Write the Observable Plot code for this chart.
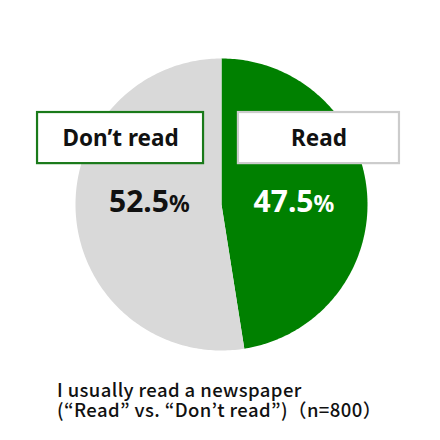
<!DOCTYPE html>
<html>
<head>
<meta charset="utf-8">
<script src="https://cdn.jsdelivr.net/npm/d3@7"></script>
<script src="https://cdn.jsdelivr.net/npm/@observablehq/plot@0.6"></script>
<style>
  html, body { margin: 0; padding: 0; background: #fff; }
  #chart { width: 440px; position: relative; height: 440px; }
  .caption { position: absolute; left: 57px; top: 379px; font-family: "Noto Sans CJK JP", "Noto Sans", sans-serif; font-weight: 500; font-size: 18.5px; line-height: 20px; letter-spacing: 0.4px; color: #111; white-space: nowrap; }
</style>
</head>
<body>
<div id="chart"></div>
<script>
const categories = ["Read", "Don’t read"];
const values = [47.5, 52.5];
const valueLabels = ["47.5", "52.5"];
const fills = ["#008000", "#d9d9d9"];
const boxStrokes = ["#cccccc", "#1a7a1a"];
const textFills = ["#ffffff", "#111111"];
const captionLines = ["I usually read a newspaper", "(“Read” vs. “Don’t read”)（n=800）"];

// slice polygons from data (clockwise from 12 o'clock)
const total = d3.sum(values);
let acc = 0;
const slices = categories.map((c, i) => {
  const a0 = acc / total * 2 * Math.PI;
  acc += values[i];
  const a1 = acc / total * 2 * Math.PI;
  return { category: c, a0, a1, i };
});
const polys = [];
for (const s of slices) {
  const n = 200;
  polys.push({ category: s.category, k: 0, x: 0, y: 0 });
  for (let j = 0; j <= n; j++) {
    const a = s.a0 + (s.a1 - s.a0) * j / n;
    polys.push({ category: s.category, k: j + 1, x: Math.sin(a), y: Math.cos(a) });
  }
}

// label layout (in chart units of radius)
const boxes = categories.map((c, i) => ({
  category: c,
  x1: i === 0 ? 0.116 : -1.26, x2: i === 0 ? 1.219 : -0.123,
  y1: 0.28, y2: 0.63,
  stroke: boxStrokes[i]
}));
const pct = categories.map((c, i) => ({
  category: c, label: valueLabels[i],
  x: i === 0 ? 0.63 : -0.36, y: 0.0, fill: textFills[i]
}));

const plot = Plot.plot({
  width: 440,
  height: 365,
  marginLeft: 75,
  marginRight: 73,
  marginTop: 58,
  marginBottom: 15,
  x: { domain: [-1, 1], axis: null },
  y: { domain: [-1, 1], axis: null },
  style: { fontFamily: "'Noto Sans', 'Noto Sans CJK JP', sans-serif", background: "#fff" },
  marks: [
    Plot.line(polys, { x: "x", y: "y", z: "category", fill: d => fills[categories.indexOf(d.category)], stroke: "none", curve: "linear" }),
    Plot.rect(boxes, { x1: "x1", x2: "x2", y1: "y1", y2: "y2", fill: "#fff", stroke: "stroke", strokeWidth: 2.2, inset: 0 }),
    Plot.text(boxes, { x: d => (d.x1 + d.x2) / 2, y: d => (d.y1 + d.y2) / 2, text: "category", fontSize: 22.5, fontWeight: "bold", fill: "#111", dy: 1 }),
    Plot.text(pct, { x: "x", y: "y", text: "label", textAnchor: "end", fontSize: 30, fontWeight: "bold", fill: "fill", lineAnchor: "bottom", dy: 7 }),
    Plot.text(pct, { x: "x", y: "y", text: () => "%", textAnchor: "start", fontSize: 23, fontWeight: "bold", fill: "fill", lineAnchor: "bottom", dy: 7 })
  ]
});
document.getElementById("chart").appendChild(plot);
const cap = document.createElement("div");
cap.className = "caption";
cap.innerHTML = captionLines.map(l => `<div>${l}</div>`).join("");
document.getElementById("chart").appendChild(cap);
</script>
</body>
</html>
